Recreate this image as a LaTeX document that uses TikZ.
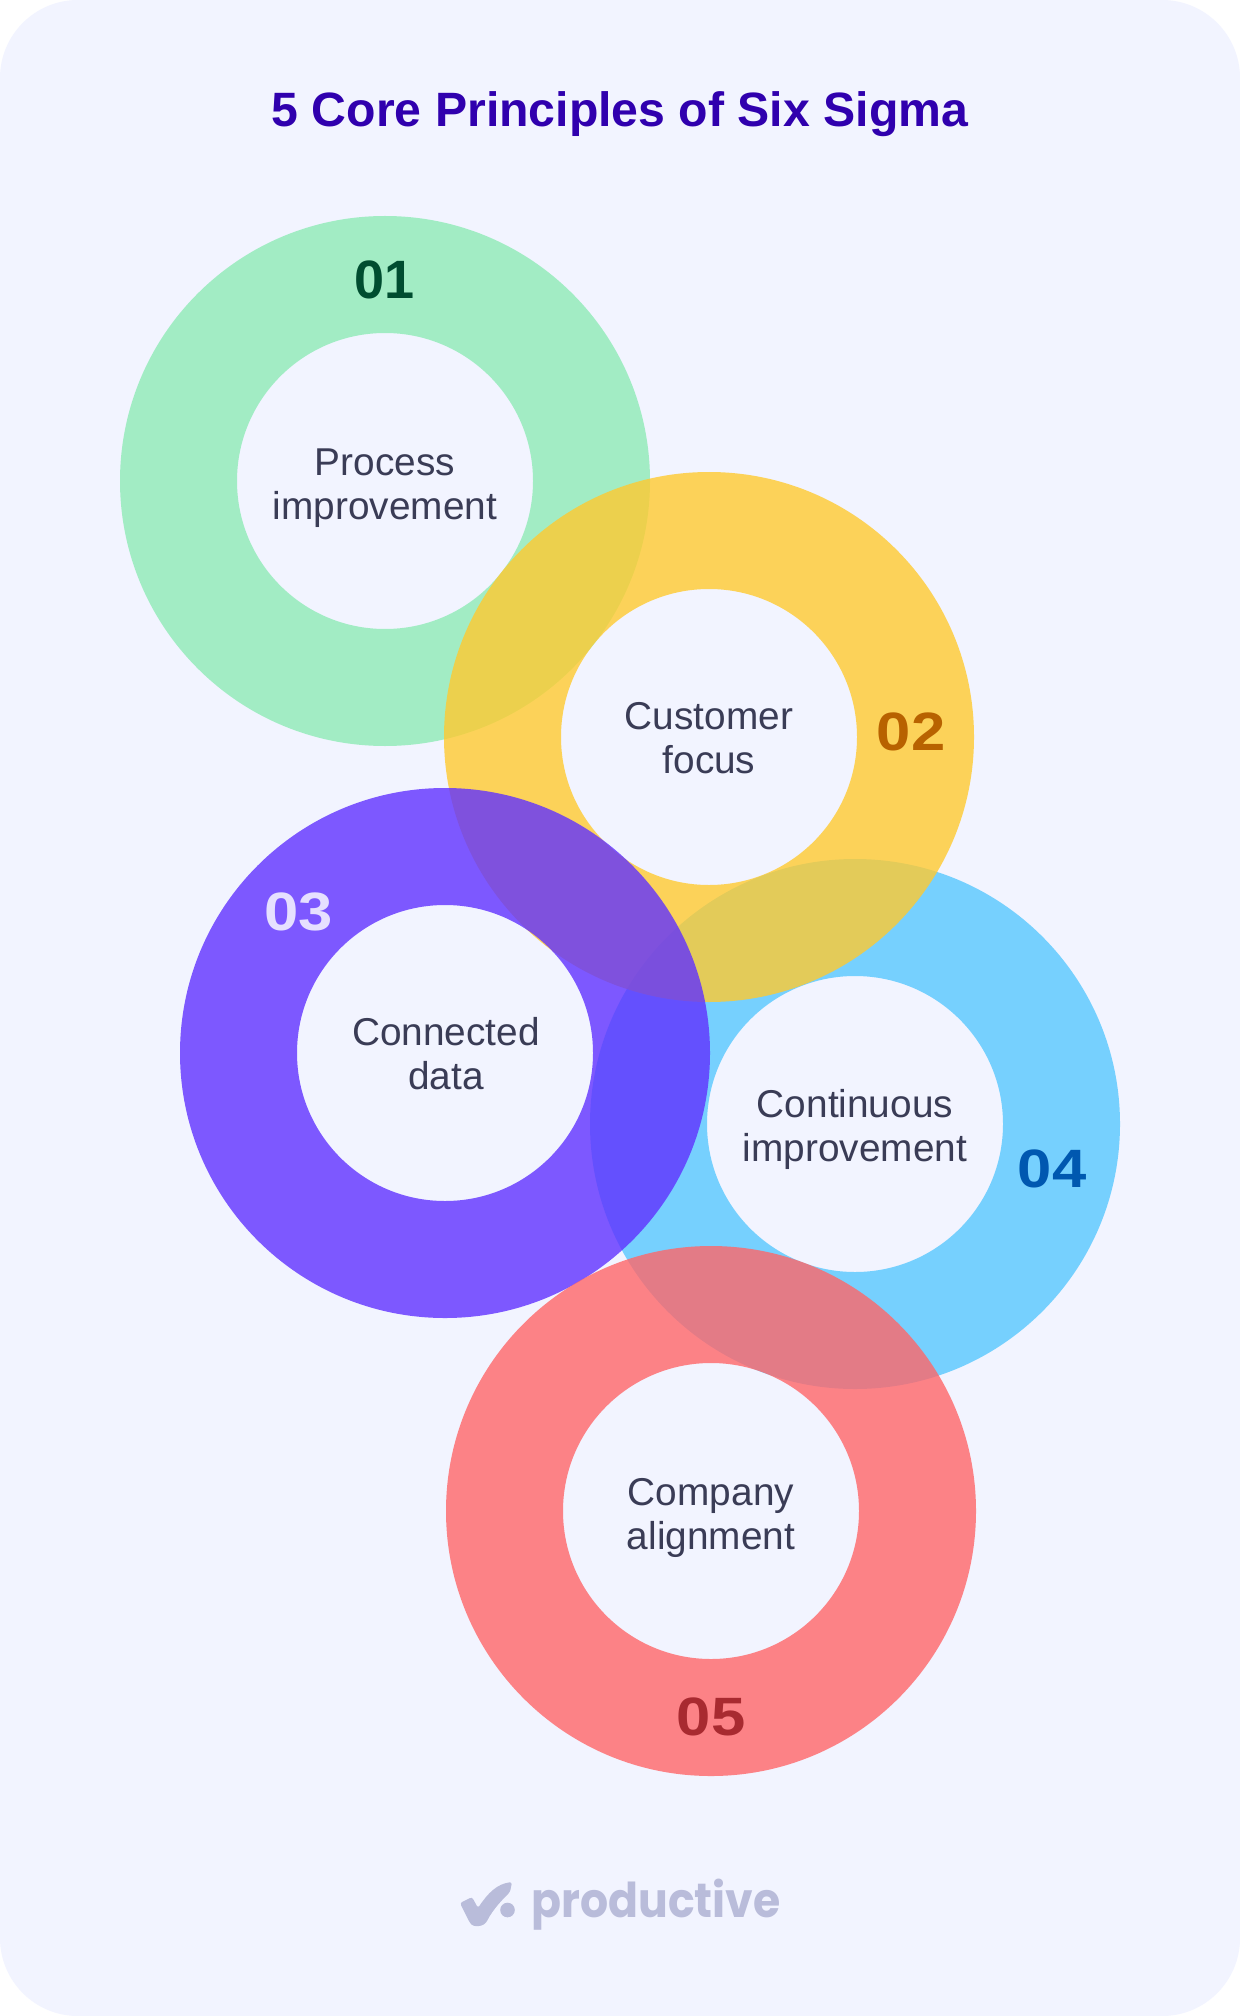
\documentclass[tikz,border=0pt]{standalone}
\usepackage{fontspec}
\setmainfont{Liberation Sans}
\newfontfamily\numfont{Liberation Sans}[BoldFont=* Bold, BoldFeatures={FakeStretch=1.14}]
\newfontfamily\logofont{Poppins}[BoldFont=* Bold, BoldFeatures={FakeStretch=0.92}]
\definecolor{pagebg}{HTML}{F2F4FF}
\definecolor{titlecol}{HTML}{3000AE}
\definecolor{bodycol}{HTML}{3A3C56}
\definecolor{logocol}{HTML}{B9BCDA}
\definecolor{greenring}{HTML}{8EEBB6}
\definecolor{yellowring}{HTML}{FFCA30}
\definecolor{purplering}{HTML}{6031FF}
\definecolor{bluering}{HTML}{57C7FE}
\definecolor{redring}{HTML}{FF6668}
\definecolor{numa}{HTML}{004D30}
\definecolor{numb}{HTML}{B86200}
\definecolor{numc}{HTML}{E6E0FF}
\definecolor{numd}{HTML}{0058B0}
\definecolor{nume}{HTML}{A82A30}
\tikzset{
  ring/.style={fill=#1, fill opacity=0.8, even odd rule, draw=none},
  body/.style={font=\fontsize{19.4}{22}\selectfont, text=bodycol, align=center, inner sep=0pt},
  num/.style={font=\numfont\bfseries\fontsize{27}{27}\selectfont, text=#1, inner sep=0pt},
}
\begin{document}
\begin{tikzpicture}[x=0.5pt,y=-0.5pt]
\useasboundingbox (0,0) rectangle (1240,2016);
\fill[white] (0,0) rectangle (1240,2016);
\fill[pagebg, rounded corners=39pt] (0,0) rectangle (1240,2016);
\node[font=\fontsize{24.1}{25}\selectfont\bfseries, text=titlecol, inner sep=0pt] (title) at (620,114) {5 Core Principles of Six Sigma};
% rings, bottom to top
\path[ring=bluering]   (855,1124) circle[radius=265] (855,1124) circle[radius=148];
\path[ring=greenring]  (385,481)  circle[radius=265] (385,481)  circle[radius=148];
\path[ring=yellowring] (709,737)  circle[radius=265] (709,737)  circle[radius=148];
\path[ring=purplering] (445,1053) circle[radius=265] (445,1053) circle[radius=148];
\path[ring=redring]    (711,1511) circle[radius=265] (711,1511) circle[radius=148];
% labels
\node[body] (t1) at (385,488)  {Process\\improvement};
\node[body] (t2) at (709,738)  {Customer\\focus};
\node[body] (t3) at (446,1054) {Connected\\data};
\node[body] (t4) at (855,1129) {Continuous\\improvement};
\node[body] (t5) at (711,1518) {Company\\alignment};
\node[num=numa, font=\bfseries\fontsize{27}{27}\selectfont] (n1) at (385,280)  {01};
\node[num=numb] (n2) at (911,732)  {02};
\node[num=numc] (n3) at (299,912)  {03};
\node[num=numd] (n4) at (1052,1169){04};
\node[num=nume] (n5) at (711,1717) {05};
% logo
\fill[logocol, rounded corners=1.2pt] (460,1903) -- (472,1897) -- (478,1908)
  .. controls (488,1893) and (497,1884) .. (512,1882) -- (510,1892)
  .. controls (503,1899) and (493,1909) .. (486,1923) -- (481,1926) -- (473,1926) -- (470,1923) -- cycle;
\fill[logocol] (507.5,1910) circle[radius=7.3];
\node[anchor=base west, inner sep=0pt, text=logocol, font=\logofont\bfseries\fontsize{24}{24}\selectfont] (logo) at (531,1917) {productive};
\end{tikzpicture}
\end{document}
